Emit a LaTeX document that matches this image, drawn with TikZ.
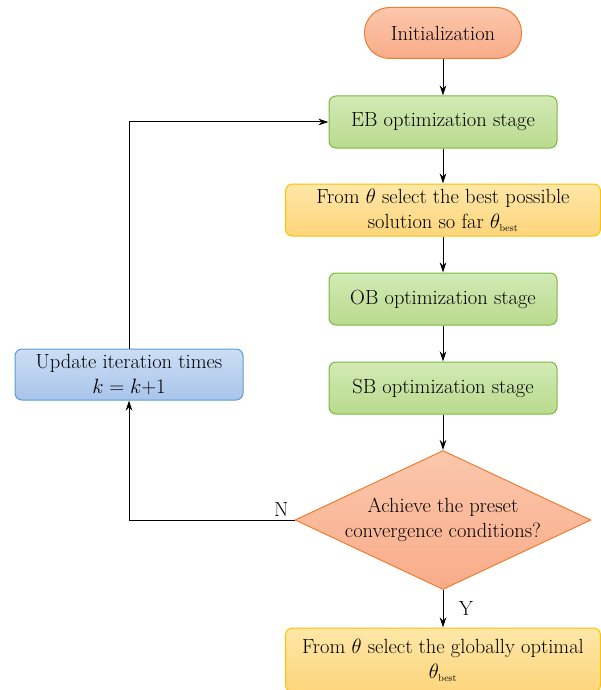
\documentclass[tikz,border=0pt]{standalone}
\usepackage{amsmath}
\usetikzlibrary{shapes.geometric, positioning, arrows.meta}

\definecolor{initTop}{HTML}{FCC7AD}
\definecolor{initBot}{HTML}{F8AC88}
\definecolor{initLine}{HTML}{ED7D31}
\definecolor{greenTop}{HTML}{D2EAB5}
\definecolor{greenBot}{HTML}{B9DA8E}
\definecolor{greenLine}{HTML}{7DB83E}
\definecolor{yellowTop}{HTML}{FEE7A8}
\definecolor{yellowBot}{HTML}{FDD57C}
\definecolor{yellowLine}{HTML}{FFC000}
\definecolor{blueTop}{HTML}{CCDEF4}
\definecolor{blueBot}{HTML}{A9C4EB}
\definecolor{blueLine}{HTML}{5B9BD5}

\newcommand{\thbest}{\theta_{\scriptscriptstyle\mathrm{best}}}

\tikzset{
    boxbase/.style={draw, line width=1pt, inner sep=0pt, align=center},
    startbox/.style={boxbase, draw=initLine, top color=initTop, bottom color=initBot,
        minimum width=157, minimum height=51, rounded corners=25pt},
    stagebox/.style={boxbase, draw=greenLine, top color=greenTop, bottom color=greenBot,
        minimum width=228, minimum height=52, rounded corners=7pt},
    selbox/.style={boxbase, draw=yellowLine, top color=yellowTop, bottom color=yellowBot,
        minimum width=315, minimum height=52, rounded corners=7pt},
    updbox/.style={boxbase, draw=blueLine, top color=blueTop, bottom color=blueBot,
        minimum width=228, minimum height=51, rounded corners=7pt},
    decision/.style={boxbase, diamond, draw=initLine, top color=initTop, bottom color=initBot,
        minimum width=296, minimum height=139, shape aspect=2.13},
    flow/.style={->, line width=1pt}
}

\begin{document}
\begin{tikzpicture}[>={Stealth[length=10pt,width=6.5pt]}, x=1pt, y=-1pt,
    font=\fontsize{20.5}{25}\selectfont]

    % page frame (reference margins)
    \useasboundingbox (0,0) rectangle (601,690);

    % main column
    \node[startbox] (init) at (443,33) {Initialization};
    \node[stagebox] (eb) at (443,122) {EB optimization stage};
    \node[selbox] (sel) at (443,210) {From $\theta$ select the best possible\\
        solution so far $\thbest$};
    \node[stagebox] (ob) at (443,299) {OB optimization stage};
    \node[stagebox] (sb) at (443,388) {SB optimization stage};
    \node[decision] (conv) at (443,520) {Achieve the preset\\ convergence conditions?};
    \node[selbox, minimum height=64] (final) at (443,660) {From $\theta$ select the globally optimal\\
        $\thbest$};

    % loop box
    \node[updbox] (upd) at (129,374.5) {Update iteration times\\ $k = k{+}1$};

    % connectors
    \draw[flow] (init) -- (eb);
    \draw[flow] (eb) -- (sel);
    \draw[flow] (sel) -- (ob);
    \draw[flow] (ob) -- (sb);
    \draw[flow] (sb) -- (conv);
    \draw[flow] (conv.south) -- node[right=12pt] {Y} (final.north);
    \draw[flow] (conv.west) -| node[pos=0.04, above] {N} (upd.south);
    \draw[flow] (upd.north) |- (eb.west);

\end{tikzpicture}
\end{document}
